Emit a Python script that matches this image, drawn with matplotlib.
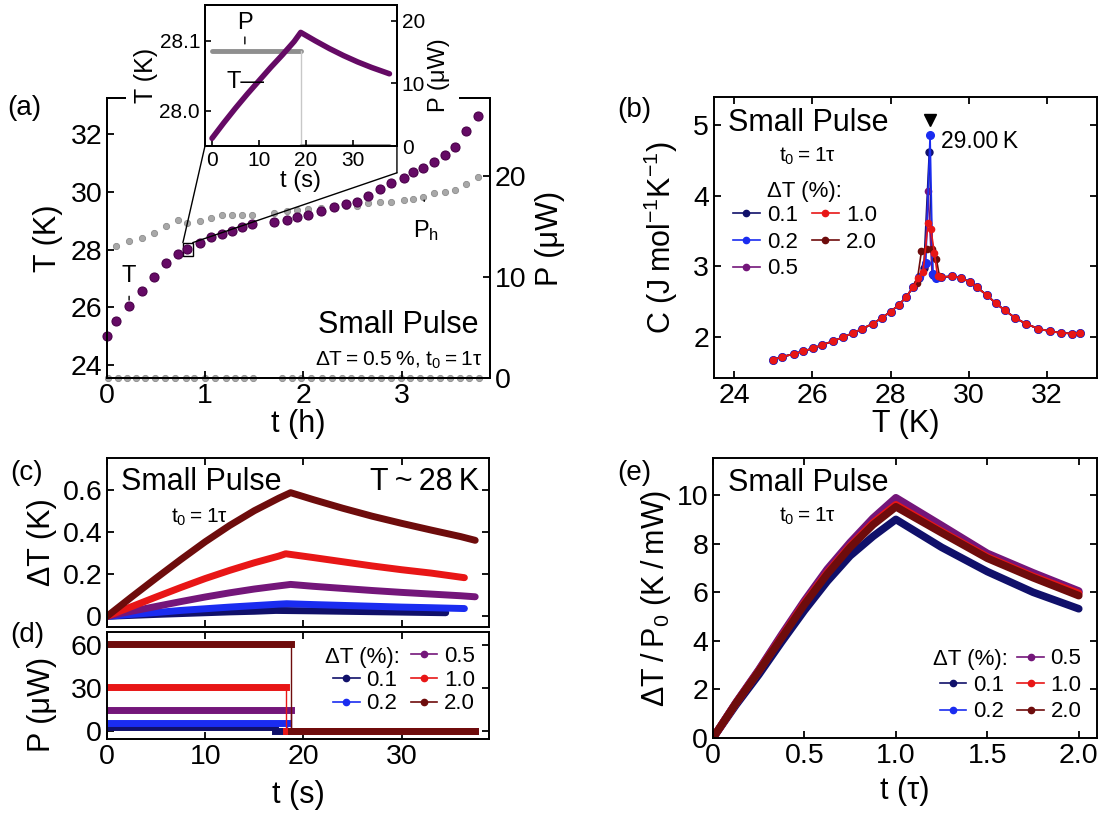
import matplotlib
matplotlib.use('Agg')
import matplotlib.pyplot as plt
from matplotlib.lines import Line2D
from matplotlib.patches import Rectangle, ConnectionPatch

plt.rcParams['font.family'] = ['Liberation Sans', 'DejaVu Sans']
plt.rcParams['mathtext.fontset'] = 'custom'
plt.rcParams['mathtext.rm'] = 'Liberation Sans'
plt.rcParams['mathtext.it'] = 'Liberation Sans:italic'
plt.rcParams['axes.linewidth'] = 1.4

# ---- panel (a): long sweep, T and heater power vs time ----
a_t = [0.0, 0.09, 0.225, 0.355, 0.48, 0.60, 0.72, 0.81, 0.95, 1.06, 1.17, 1.27, 1.37, 1.48,
       1.70, 1.83, 1.94, 2.05, 2.18, 2.31, 2.43, 2.55, 2.66, 2.78, 2.89, 3.02, 3.12, 3.22,
       3.33, 3.44, 3.54, 3.66, 3.78]
a_T = [25.02, 25.53, 26.05, 26.56, 27.06, 27.55, 27.86, 28.02, 28.24, 28.42, 28.53, 28.66,
       28.77, 28.89, 28.94, 29.03, 29.14, 29.21, 29.34, 29.48, 29.57, 29.66, 29.86, 30.09,
       30.30, 30.47, 30.67, 30.84, 31.05, 31.28, 31.57, 32.09, 32.61]
ph_t = a_t[1:]
ph_P = [13.1, 13.6, 13.9, 14.3, 15.0, 15.6, 15.3, 15.5, 15.8, 16.1, 16.1, 16.1, 16.1, 16.35,
        16.5, 16.6, 16.7, 16.8, 16.9, 17.0, 17.0, 17.3, 17.4, 17.4, 17.6, 17.7, 17.9, 18.3,
        18.4, 18.6, 19.2, 19.9]
base_t = [0.01, 0.11, 0.2, 0.3, 0.39, 0.49, 0.59, 0.69, 0.8, 0.89, 1.0, 1.1, 1.21, 1.3, 1.4,
          1.49, 1.78, 1.88, 1.98, 2.08, 2.19, 2.29, 2.39, 2.49, 2.59, 2.69, 2.79, 2.89, 2.99,
          3.09, 3.19, 3.29, 3.39, 3.49, 3.59, 3.69, 3.79]
base_P = [0.0] * len(base_t)

# inset: one pulse
in_t = [0, 2.5, 5, 7.5, 10, 12.5, 15, 17.5, 18.9, 22, 25, 28, 31, 34, 37.8]
in_T = [27.961, 27.983, 28.004, 28.024, 28.043, 28.062, 28.080, 28.099, 28.112,
        28.100, 28.089, 28.079, 28.070, 28.062, 28.053]
in_Pt = [0, 18.9, 18.9, 37.8]
in_P = [15.2, 15.2, 0, 0]

# ---- panel (b): heat capacity ----
b_labels = ['0.1', '0.2', '0.5', '1.0', '2.0']
b_colors = ['#10106a', '#1a2cf0', '#74167a', '#e81616', '#6e0c0c']
b_ms = [5.0, 5.5, 4.5, 4.5, 4.5]
b_T_low = [25.0, 25.21, 25.53, 25.75, 26.02, 26.25, 26.52, 26.79, 27.05, 27.28, 27.55, 27.77,
           28.0, 28.22, 28.4, 28.58]
b_C_low = [1.68, 1.72, 1.76, 1.80, 1.84, 1.89, 1.94, 2.0, 2.06, 2.12, 2.19, 2.27, 2.36, 2.46,
           2.57, 2.71]
b_T_high = [29.3, 29.57, 29.8, 30.02, 30.2, 30.47, 30.69, 30.92, 31.19, 31.46, 31.77, 32.09,
            32.36, 32.63, 32.85]
b_C_high = [2.85, 2.86, 2.84, 2.78, 2.71, 2.59, 2.48, 2.38, 2.27, 2.19, 2.12, 2.08, 2.06, 2.05,
            2.06]
b_T_peak = [[28.72, 28.85, 28.99, 29.08],
            [28.72, 28.90, 29.01, 29.08, 29.15],
            [28.74, 28.88, 28.96, 29.06],
            [28.70, 28.83, 28.96, 29.03, 29.12, 29.2],
            [28.67, 28.79, 28.92, 29.06, 29.17, 29.25]]
b_C_peak = [[2.84, 2.98, 4.62, 2.88],
            [2.85, 3.05, 4.86, 2.90, 2.84],
            [2.86, 3.02, 4.07, 2.90],
            [2.83, 2.92, 3.62, 3.53, 3.19, 2.87],
            [2.76, 3.22, 3.25, 3.25, 3.11, 2.86]]
b_order = [0, 2, 1, 4, 3]

# ---- panel (c): temperature rise for each pulse size ----
c_t = [[0, 2.5, 5, 7.5, 10, 12.5, 15, 17.2, 21, 24, 27, 30, 34.5],
       [0, 2.5, 5, 7.5, 10, 12.5, 15, 17.5, 18.3, 21, 24, 27, 30, 33, 36.4],
       [0, 2.5, 5, 7.5, 10, 12.5, 15, 17.5, 18.7, 21, 24, 27, 30, 33, 36, 37.5],
       [0, 2.5, 5, 7.5, 10, 12.5, 15, 17.5, 18.2, 21, 24, 27, 30, 33, 36.4],
       [0, 2.5, 5, 7.5, 10, 12.5, 15, 17.5, 18.7, 21, 24, 27, 30, 33, 36, 37.5]]
c_dT = [[0, 0.0045, 0.009, 0.013, 0.017, 0.021, 0.024, 0.028, 0.026, 0.024, 0.022, 0.020, 0.017],
        [0, 0.009, 0.018, 0.028, 0.036, 0.044, 0.051, 0.058, 0.060, 0.056, 0.052, 0.048, 0.044,
         0.041, 0.037],
        [0, 0.024, 0.047, 0.070, 0.092, 0.112, 0.130, 0.145, 0.152, 0.143, 0.133, 0.123, 0.114,
         0.106, 0.098, 0.093],
        [0, 0.046, 0.092, 0.137, 0.180, 0.219, 0.255, 0.287, 0.298, 0.280, 0.260, 0.240, 0.222,
         0.206, 0.184],
        [0, 0.092, 0.182, 0.270, 0.355, 0.433, 0.503, 0.563, 0.589, 0.556, 0.515, 0.477, 0.443,
         0.411, 0.380, 0.362]]

# ---- panel (d): heater power ----
d_level = [3, 6, 15, 31, 61]
d_toff = [17.1, 18.3, 18.7, 18.2, 18.7]
d_tend = [34.5, 36.4, 37.5, 36.4, 37.5]

# ---- panel (e): normalised response ----
e_t = [0, 0.125, 0.25, 0.375, 0.5, 0.625, 0.75, 0.875, 1.0, 1.25, 1.5, 1.75, 2.0]
e_y = [[0, 1.35, 2.6, 3.95, 5.25, 6.45, 7.5, 8.3, 9.0, 7.85, 6.85, 6.0, 5.32],
       [0, 1.43, 2.78, 4.2, 5.6, 6.9, 8.0, 8.95, 9.75, 8.65, 7.55, 6.75, 6.0],
       [0, 1.45, 2.8, 4.25, 5.65, 6.95, 8.05, 9.05, 9.89, 8.75, 7.6, 6.8, 6.05],
       [0, 1.42, 2.75, 4.15, 5.55, 6.8, 7.9, 8.85, 9.6, 8.5, 7.45, 6.65, 5.95],
       [0, 1.42, 2.74, 4.12, 5.5, 6.75, 7.85, 8.78, 9.52, 8.45, 7.4, 6.6, 5.86]]

purple = '#650a65'
gray = '#a8a8a8'
TS = 20.5      # tick labels
LS = 22        # axis labels
BIG = 22       # "Small Pulse"
LEG = 16       # legends
SM = 15        # t0 annotations
sub0 = '$_\\mathregular{0}$'
t0txt = 't' + sub0 + '\u2009=\u20091\u03c4'


def style(ax, allsides=True):
    ax.tick_params(direction='in', length=5, width=1.3, labelsize=TS,
                   top=allsides, right=allsides)


fig = plt.figure(figsize=(11.02, 8.14), dpi=100)

# ================= (a) =================
ax = fig.add_axes([0.0971, 0.5356, 0.3475, 0.344])
ax2 = ax.twinx()
ax.set_zorder(ax2.get_zorder() + 1)
ax.patch.set_visible(False)
ax2.plot(ph_t, ph_P, 'o', ms=4.5, color=gray, mec='#8c8c8c', mew=0.6, clip_on=False)
ax2.plot(base_t, base_P, 'o', ms=4.5, color=gray, mec='#8c8c8c', mew=0.6, clip_on=False)
ax.plot(a_t, a_T, 'o', ms=6.5, color=purple, mec='#4a004a', mew=0.8, clip_on=False)
ax.set_xlim(0, 3.9)
ax.set_ylim(23.55, 33.25)
ax2.set_ylim(0, 27.7)
ax.set_xticks([0, 1, 2, 3])
ax.set_yticks([24, 26, 28, 30, 32])
ax2.set_yticks([0, 10, 20])
style(ax, allsides=False)
ax2.tick_params(direction='in', length=5, width=1.3, labelsize=TS)
ax.set_xlabel('t (h)', fontsize=LS, labelpad=0)
ax.set_ylabel('T (K)', fontsize=LS)
ax.yaxis.set_label_coords(-0.115, 0.5)
ax2.set_ylabel('P (\u03bcW)', fontsize=LS)
ax2.yaxis.set_label_coords(1.118, 0.5)
ax.text(0.971, 0.19, 'Small Pulse', transform=ax.transAxes, fontsize=BIG, ha='right', va='center')
ax.text(0.98, 0.064, '\u0394T\u2009=\u20090.5\u2009%, ' + t0txt, transform=ax.transAxes,
        fontsize=15, ha='right', va='center')
ax.annotate('T', xy=(0.225, 26.25), xytext=(0.225, 27.1), fontsize=17, ha='center', va='center',
            arrowprops=dict(arrowstyle='-', lw=1, shrinkA=5, shrinkB=0))
ax2.annotate('P$_\\mathregular{h}$', xy=(3.23, 17.6), xytext=(3.25, 14.6), fontsize=17,
             ha='center', va='center', arrowprops=dict(arrowstyle='-', lw=1, shrinkA=10, shrinkB=0))
sq = Rectangle((0.773, 27.79), 0.10, 0.45, fill=False, ec='k', lw=1)
ax.add_patch(sq)
fig.text(0.007, 0.867, '(a)', fontsize=20, va='center')

# inset (white band hides the main top spine behind the inset labels)
fig.add_artist(Rectangle((126 / 1102, 1 - 104 / 814), 333 / 1102, 12 / 814,
                         transform=fig.transFigure, fc='white', ec='none', zorder=2))
axin = fig.add_axes([0.186, 0.8206, 0.1742, 0.1732])
axin2 = axin.twinx()
axin2.set_zorder(3)
axin.set_zorder(4)
axin.patch.set_visible(False)
axin2.patch.set_facecolor('white')
axin2.plot(in_Pt[:2], in_P[:2], color='#8f8f8f', lw=3.5, solid_capstyle='round')
axin2.plot(in_Pt[1:3], in_P[1:3], color='#c8c8c8', lw=1)
axin2.plot(in_Pt[2:], in_P[2:], color='#8f8f8f', lw=3.5, solid_capstyle='round')
axin.plot(in_t, in_T, color=purple, lw=4, solid_capstyle='round')
axin.set_xlim(-1.5, 39.4)
axin.set_ylim(27.950, 28.151)
axin2.set_ylim(0, 22.5)
axin.set_xticks([0, 10, 20, 30])
axin.set_yticks([28.0, 28.1])
axin2.set_yticks([0, 10, 20])
axin.tick_params(direction='in', length=4, width=1.2, labelsize=15)
axin2.tick_params(direction='in', length=4, width=1.2, labelsize=15)
axin.set_xlabel('t (s)', fontsize=17, labelpad=0)
axin.set_ylabel('T (K)', fontsize=18, labelpad=1)
axin2.set_ylabel('P (\u03bcW)', fontsize=17, labelpad=2)
axin2.annotate('P', xy=(7, 16.3), xytext=(7, 19.6), fontsize=17, ha='center', va='center',
               arrowprops=dict(arrowstyle='-', lw=1, shrinkA=8, shrinkB=0))
axin.text(3.0, 28.041, 'T\u2014', fontsize=17, ha='left', va='center')

con1 = ConnectionPatch(xyA=(0, 0), coordsA=axin.transAxes, xyB=(0.773, 28.24),
                       coordsB=ax.transData, color='k', lw=1, zorder=5)
fig.add_artist(con1)
con2 = ConnectionPatch(xyA=(1, 0), coordsA=axin.transAxes, xyB=(1, -0.19),
                       coordsB=axin.transAxes, color='k', lw=1, zorder=5)
fig.add_artist(con2)
con3 = ConnectionPatch(xyA=(1, -0.19), coordsA=axin.transAxes, xyB=(0.873, 28.24),
                       coordsB=ax.transData, color='k', lw=1, zorder=5)
fig.add_artist(con3)

# ================= (b) =================
bx = fig.add_axes([0.6479, 0.5356, 0.3475, 0.3452])
handles = [None] * 5
for i in b_order:
    xs = b_T_low + b_T_peak[i] + b_T_high
    ys = b_C_low + b_C_peak[i] + b_C_high
    bx.plot(xs, ys, '-o', color=b_colors[i], ms=b_ms[i], lw=1.2)
    handles[i] = Line2D([], [], color=b_colors[i], marker='o', ms=4.5, lw=1.2)
bx.plot([29.0], [5.07], 'v', color='k', ms=8)
bx.text(29.29, 4.77, '29.00\u2009K', fontsize=16.5, va='center')
bx.set_xlim(23.48, 33.28)
bx.set_ylim(1.42, 5.40)
bx.set_xticks([24, 26, 28, 30, 32])
bx.set_yticks([2, 3, 4, 5])
style(bx)
bx.set_xlabel('T (K)', fontsize=LS, labelpad=0)
bx.set_ylabel('C (J\u2009mol$^\\mathregular{-1}$K$^\\mathregular{-1}$)', fontsize=LS)
bx.yaxis.set_label_coords(-0.089, 0.5)
bx.text(0.037, 0.907, 'Small Pulse', transform=bx.transAxes, fontsize=BIG, va='center')
bx.text(0.243, 0.79, t0txt, transform=bx.transAxes, fontsize=SM, ha='center', va='center')
bx.text(0.138, 0.665, '\u0394T (%):', transform=bx.transAxes, fontsize=LEG, va='center')
bx.legend(handles, b_labels, ncol=2, loc='upper left', bbox_to_anchor=(0.05, 0.615),
          frameon=False, fontsize=LEG, handlelength=1.2, handletextpad=0.35,
          columnspacing=0.6, labelspacing=0.25, borderpad=0, borderaxespad=0)
fig.text(0.56, 0.865, '(b)', fontsize=20, va='center')

# ================= (c) =================
cx = fig.add_axes([0.0971, 0.2297, 0.3466, 0.2076])
for i in range(5):
    cx.plot(c_t[i], c_dT[i], '-', color=b_colors[i], lw=5, solid_capstyle='round')
cx.set_xlim(0, 38.9)
cx.set_ylim(-0.051, 0.754)
cx.set_yticks([0, 0.2, 0.4, 0.6])
cx.set_yticklabels(['0', '0.2', '0.4', '0.6'])
cx.set_xticks([0, 10, 20, 30])
style(cx)
cx.tick_params(labelbottom=False)
cx.set_ylabel('\u0394T (K)', fontsize=LS)
cx.yaxis.set_label_coords(-0.131, 0.5)
cx.text(0.037, 0.858, 'Small Pulse', transform=cx.transAxes, fontsize=BIG, va='center')
cx.text(0.974, 0.858, 'T\u2009~\u200928\u2009K', transform=cx.transAxes, fontsize=BIG,
        ha='right', va='center')
cx.text(0.243, 0.65, t0txt, transform=cx.transAxes, fontsize=SM, ha='center', va='center')
fig.text(0.009, 0.419, '(c)', fontsize=20, va='center')

# ================= (d) =================
dx = fig.add_axes([0.0971, 0.0921, 0.3466, 0.1314])
dh = []
for i in range(5):
    lv, toff, tend = d_level[i], d_toff[i], d_tend[i]
    dx.plot([0, toff, toff, tend], [lv, lv, 0, 0], '-', color=b_colors[i], lw=1)
    dx.plot([0, toff], [lv, lv], '-', color=b_colors[i], lw=5)
    dx.plot([toff, tend], [0, 0], '-', color=b_colors[i], lw=5)
    dh.append(Line2D([], [], color=b_colors[i], marker='o', ms=4.5, lw=1.2))
blank = Line2D([], [], color='none')
dx.set_xlim(0, 38.9)
dx.set_ylim(-5.3, 69.2)
dx.set_yticks([0, 30, 60])
dx.set_xticks([0, 10, 20, 30])
style(dx)
dx.set_xlabel('t (s)', fontsize=LS, labelpad=7)
dx.set_ylabel('P (\u03bcW)', fontsize=LS)
dx.yaxis.set_label_coords(-0.131, 0.32)
dx.text(0.767, 0.766, '\u0394T (%):', transform=dx.transAxes, fontsize=LEG, ha='right',
        va='center')
dx.legend([blank, dh[0], dh[1], dh[2], dh[3], dh[4]], ['', b_labels[0], b_labels[1],
          b_labels[2], b_labels[3], b_labels[4]], ncol=2, loc='upper left',
          bbox_to_anchor=(0.592, 0.87), frameon=False, fontsize=LEG, handlelength=1.2,
          handletextpad=0.3, columnspacing=0.6, labelspacing=0.12, borderpad=0,
          borderaxespad=0)
fig.text(0.009, 0.22, '(d)', fontsize=20, va='center')

# ================= (e) =================
ex = fig.add_axes([0.647, 0.0934, 0.3485, 0.344])
eh = []
for i in range(5):
    ex.plot(e_t, e_y[i], '-', color=b_colors[i], lw=5.5, solid_capstyle='round')
    eh.append(Line2D([], [], color=b_colors[i], marker='o', ms=4.5, lw=1.2))
ex.set_xlim(0, 2.1)
ex.set_ylim(0, 11.53)
ex.set_xticks([0, 0.5, 1.0, 1.5, 2.0])
ex.set_xticklabels(['0', '0.5', '1.0', '1.5', '2.0'])
ex.set_yticks([0, 2, 4, 6, 8, 10])
style(ex)
ex.set_xlabel('t (\u03c4)', fontsize=LS, labelpad=5)
ex.set_ylabel('\u0394T\u2009/\u2009P' + sub0 + ' (K\u2009/\u2009mW)', fontsize=LS)
ex.yaxis.set_label_coords(-0.104, 0.5)
ex.text(0.039, 0.91, 'Small Pulse', transform=ex.transAxes, fontsize=BIG, va='center')
ex.text(0.245, 0.79, t0txt, transform=ex.transAxes, fontsize=SM, ha='center', va='center')
ex.text(0.768, 0.279, '\u0394T (%):', transform=ex.transAxes, fontsize=LEG, ha='right',
        va='center')
ex.legend([blank, eh[0], eh[1], eh[2], eh[3], eh[4]], ['', b_labels[0], b_labels[1],
          b_labels[2], b_labels[3], b_labels[4]], ncol=2, loc='upper left',
          bbox_to_anchor=(0.59, 0.32), frameon=False, fontsize=LEG, handlelength=1.2,
          handletextpad=0.3, columnspacing=0.6, labelspacing=0.25, borderpad=0,
          borderaxespad=0)
fig.text(0.56, 0.419, '(e)', fontsize=20, va='center')

fig.savefig('out.png', dpi=100)
